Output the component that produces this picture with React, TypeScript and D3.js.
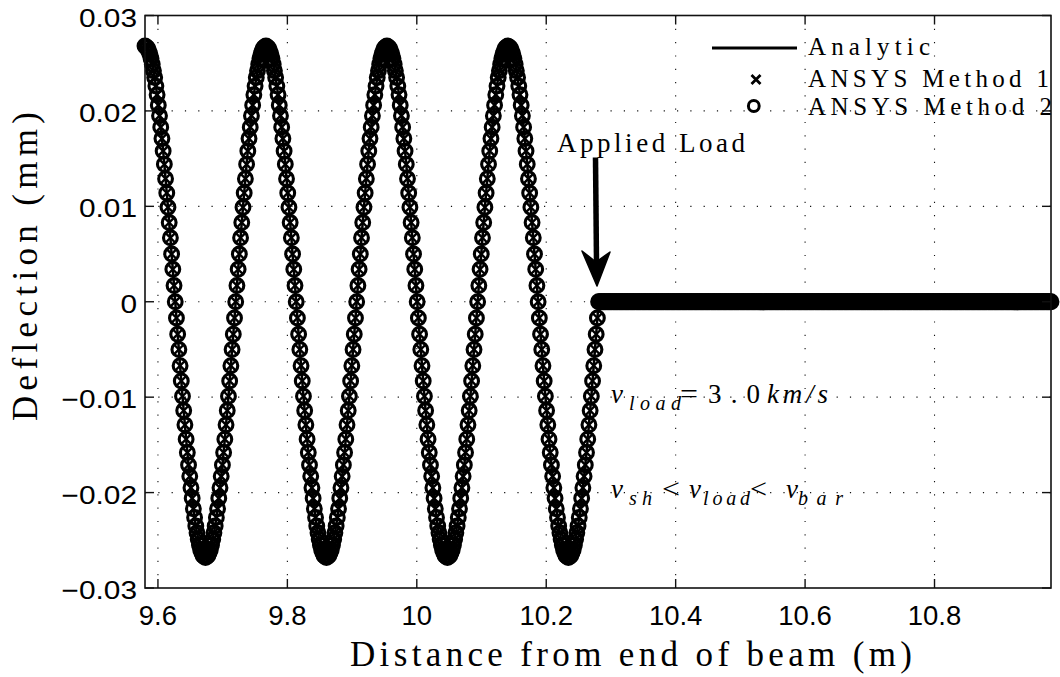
import React from 'react';
import * as d3 from 'd3';

// ---------- data ----------
// node positions along the beam span the whole x-range
const nodeSpanStart = 9.58;
const nodeSpanEnd = 10.98;

// deflection at the nodes behind the load (units: 1e-4 mm), 9.58 m ... 10.28 m
const waveDeflection = [
  268,
  267, 266, 263, 260, 255, 249, 242, 235, 226, 217, 206, 195, 183, 171, 158, 144, 129, 114, 99, 83, 67, 50, 34, 17, 0,
  -17, -34, -50, -67, -83, -99, -114, -129, -144, -158, -171, -183, -195, -206, -217, -226, -235, -242, -249, -255, -260, -263, -266, -267, -268,
  -267, -266, -263, -260, -255, -249, -242, -235, -226, -217, -206, -195, -183, -171, -158, -144, -129, -114, -99, -83, -67, -50, -34, -17, 0,
  17, 34, 50, 67, 83, 99, 114, 129, 144, 158, 171, 183, 195, 206, 217, 226, 235, 242, 249, 255, 260, 263, 266, 267, 268,
  267, 266, 263, 260, 255, 249, 242, 235, 226, 217, 206, 195, 183, 171, 158, 144, 129, 114, 99, 83, 67, 50, 34, 17, 0,
  -17, -34, -50, -67, -83, -99, -114, -129, -144, -158, -171, -183, -195, -206, -217, -226, -235, -242, -249, -255, -260, -263, -266, -267, -268,
  -267, -266, -263, -260, -255, -249, -242, -235, -226, -217, -206, -195, -183, -171, -158, -144, -129, -114, -99, -83, -67, -50, -34, -17, 0,
  17, 34, 50, 67, 83, 99, 114, 129, 144, 158, 171, 183, 195, 206, 217, 226, 235, 242, 249, 255, 260, 263, 266, 267, 268,
  267, 266, 263, 260, 255, 249, 242, 235, 226, 217, 206, 195, 183, 171, 158, 144, 129, 114, 99, 83, 67, 50, 34, 17, 0,
  -17, -34, -50, -67, -83, -99, -114, -129, -144, -158, -171, -183, -195, -206, -217, -226, -235, -242, -249, -255, -260, -263, -266, -267, -268,
  -267, -266, -263, -260, -255, -249, -242, -235, -226, -217, -206, -195, -183, -171, -158, -144, -129, -114, -99, -83, -67, -50, -34, -17, 0,
  17, 34, 50, 67, 83, 99, 114, 129, 144, 158, 171, 183, 195, 206, 217, 226, 235, 242, 249, 255, 260, 263, 266, 267, 268,
  267, 266, 263, 260, 255, 249, 242, 235, 226, 217, 206, 195, 183, 171, 158, 144, 129, 114, 99, 83, 67, 50, 34, 17, 0,
  -17, -34, -50, -67, -83, -99, -114, -129, -144, -158, -171, -183, -195, -206, -217, -226, -235, -242, -249, -255, -260, -263, -266, -267, -268,
  -267, -266, -263, -260, -255, -249, -242, -235, -226, -217, -206, -195, -183, -171, -158, -144, -129, -114, -99, -83, -67, -50, -34, -17, 0,
];

// deflection at the nodes ahead of the load (units: 1e-4 mm), 10.28 m ... 10.98 m
const aheadDeflection = [
  0, 0, 0, 0, 0, 0, 0, 0, 0, 0, 0, 0, 0, 0, 0, 0, 0, 0, 0, 0, 0, 0, 0, 0, 0,
  0, 0, 0, 0, 0, 0, 0, 0, 0, 0, 0, 0, 0, 0, 0, 0, 0, 0, 0, 0, 0, 0, 0, 0, 0,
  0, 0, 0, 0, 0, 0, 0, 0, 0, 0, 0, 0, 0, 0, 0, 0, 0, 0, 0, 0, 0, 0, 0, 0, 0,
  0, 0, 0, 0, 0, 0, 0, 0, 0, 0, 0, 0, 0, 0, 0, 0, 0, 0, 0, 0, 0, 0, 0, 0, 0,
  0, 0, 0, 0, 0, 0, 0, 0, 0, 0, 0, 0, 0, 0, 0, 0, 0, 0, 0, 0, 0, 0, 0, 0, 0,
  0, 0, 0, 0, 0, 0, 0, 0, 0, 0, 0, 0, 0, 0, 0, 0, 0, 0, 0, 0, 0, 0, 0, 0, 0,
  0, 0, 0, 0, 0, 0, 0, 0, 0, 0, 0, 0, 0, 0, 0, 0, 0, 0, 0, 0, 0, 0, 0, 0, 0,
  0, 0, 0, 0, 0, 0, 0, 0, 0, 0, 0, 0, 0, 0, 0, 0, 0, 0, 0, 0, 0, 0, 0, 0, 0,
  0, 0, 0, 0, 0, 0, 0, 0, 0, 0, 0, 0, 0, 0, 0, 0, 0, 0, 0, 0, 0, 0, 0, 0, 0,
  0, 0, 0, 0, 0, 0, 0, 0, 0, 0, 0, 0, 0, 0, 0, 0, 0, 0, 0, 0, 0, 0, 0, 0, 0,
  0, 0, 0, 0, 0, 0, 0, 0, 0, 0, 0, 0, 0, 0, 0, 0, 0, 0, 0, 0, 0, 0, 0, 0, 0,
  0, 0, 0, 0, 0, 0, 0, 0, 0, 0, 0, 0, 0, 0, 0, 0, 0, 0, 0, 0, 0, 0, 0, 0, 0,
  0, 0, 0, 0, 0, 0, 0, 0, 0, 0, 0, 0, 0, 0, 0, 0, 0, 0, 0, 0, 0, 0, 0, 0, 0,
  0, 0, 0, 0, 0, 0, 0, 0, 0, 0, 0, 0, 0, 0, 0, 0, 0, 0, 0, 0, 0, 0, 0, 0, 0,
  0, 0, 0, 0, 0, 0, 0, 0, 0, 0, 0, 0, 0, 0, 0, 0, 0, 0, 0, 0, 0, 0, 0, 0, 0,
];

const xTicks = [9.6, 9.8, 10, 10.2, 10.4, 10.6, 10.8];
const xTickLabels = ['9.6', '9.8', '10', '10.2', '10.4', '10.6', '10.8'];
const yTicks = [-0.03, -0.02, -0.01, 0, 0.01, 0.02, 0.03];
const yTickLabels = ['\u22120.03', '\u22120.02', '\u22120.01', '0', '0.01', '0.02', '0.03'];
const xDomain = [9.58, 10.98];
const yDomain = [-0.03, 0.03];
const legendLabels = ['Analytic', 'ANSYS Method 1', 'ANSYS Method 2'];
const loadPosition = 10.28;

const SANS = "'Liberation Sans', Arial, Helvetica, sans-serif";
const SERIF = "'Liberation Serif', 'DejaVu Serif', serif";

export default function App() {
  const W = 1060;
  const H = 677;
  const L = 145, R = 1051, T = 15.5, B = 588;
  const x = d3.scaleLinear().domain(xDomain).range([L, R]);
  const y = d3.scaleLinear().domain(yDomain).range([B, T]);

  const values = waveDeflection.concat(aheadDeflection.slice(1));
  const nodeX = d3.scaleLinear().domain([0, values.length - 1]).range([nodeSpanStart, nodeSpanEnd]);
  const pts = values.map((v, i) => ({ xv: nodeX(i), yv: v * 1e-4 }));

  const line = d3.line<{ xv: number; yv: number }>().x(d => x(d.xv)).y(d => y(d.yv));
  const tickLen = 9;
  const grid = { stroke: '#111', strokeWidth: 1.1, strokeDasharray: '1.2 12.1' };
  const loadX = x(loadPosition);

  return (
    <svg width={W} height={H} style={{ position: 'absolute', left: 0, top: 0, background: '#fff' }}>
      <rect x={0} y={0} width={W} height={H} fill="#fff" />
      {/* grid */}
      {xTicks.map(t => (
        <line key={'gx' + t} x1={x(t)} x2={x(t)} y1={T} y2={B} {...grid} />
      ))}
      {yTicks.filter(t => t > yDomain[0] && t < yDomain[1]).map(t => (
        <line key={'gy' + t} x1={L} x2={R} y1={y(t)} y2={y(t)} {...grid} />
      ))}

      {/* analytic line */}
      <path d={line(pts) || ''} fill="none" stroke="#000" strokeWidth={2.5} />
      {/* ANSYS method 1: x markers */}
      {pts.map((p, i) => (
        <path key={'m1' + i} transform={`translate(${x(p.xv)},${y(p.yv)})`} d="M-4.2,-4.2L4.2,4.2M-4.2,4.2L4.2,-4.2"
          stroke="#000" strokeWidth={2.4} fill="none" />
      ))}
      {/* ANSYS method 2: circles */}
      {pts.map((p, i) => (
        <circle key={'m2' + i} cx={x(p.xv)} cy={y(p.yv)} r={6.9} fill="none" stroke="#000" strokeWidth={3.1} />
      ))}

      {/* axes box */}
      <rect x={L} y={T} width={R - L} height={B - T} fill="none" stroke="#111" strokeWidth={1.6} />
      {xTicks.map(t => (
        <g key={'tx' + t}>
          <line x1={x(t)} x2={x(t)} y1={B} y2={B - tickLen} stroke="#111" strokeWidth={1.4} />
          <line x1={x(t)} x2={x(t)} y1={T} y2={T + tickLen} stroke="#111" strokeWidth={1.4} />
        </g>
      ))}
      {yTicks.map(t => (
        <g key={'ty' + t}>
          <line x1={L} x2={L + tickLen} y1={y(t)} y2={y(t)} stroke="#111" strokeWidth={1.4} />
          <line x1={R} x2={R - tickLen} y1={y(t)} y2={y(t)} stroke="#111" strokeWidth={1.4} />
        </g>
      ))}
      {xTicks.map((t, i) => (
        <text key={'lx' + t} x={x(t)} y={625} textAnchor="middle" fontFamily={SANS} fontSize={27.5} fill="#000">
          {xTickLabels[i]}
        </text>
      ))}
      {yTicks.map((t, i) => (
        <text key={'ly' + t} transform={`translate(137,${y(t) + 11}) scale(1.17,1)`} textAnchor="end"
          fontFamily={SANS} fontSize={25.5} fill="#000">
          {yTickLabels[i]}
        </text>
      ))}

      {/* axis titles */}
      <text x={350} y={666} fontFamily={SERIF} fontSize={35} textLength={562} lengthAdjust="spacing" fill="#000">
        Distance from end of beam (m)
      </text>
      <text transform="translate(37,421) rotate(-90)" fontFamily={SERIF} fontSize={35} textLength={309}
        lengthAdjust="spacing" fill="#000">
        Deflection (mm)
      </text>

      {/* legend */}
      <line x1={712} x2={797} y1={48} y2={48} stroke="#000" strokeWidth={2.8} />
      <path transform="translate(756,79.5)" d="M-4.5,-4.5L4.5,4.5M-4.5,4.5L4.5,-4.5" stroke="#000" strokeWidth={2.8} />
      <circle cx={753.8} cy={106} r={5.4} fill="none" stroke="#000" strokeWidth={3} />
      <text x={808} y={55} fontFamily={SERIF} fontSize={25} textLength={122} lengthAdjust="spacing">{legendLabels[0]}</text>
      <text x={808} y={86.5} fontFamily={SERIF} fontSize={25} textLength={241} lengthAdjust="spacing">{legendLabels[1]}</text>
      <text x={808} y={115} fontFamily={SERIF} fontSize={25} textLength={244} lengthAdjust="spacing">{legendLabels[2]}</text>

      {/* applied load annotation */}
      <text x={557} y={152} fontFamily={SERIF} fontSize={27} textLength={188} lengthAdjust="spacing">Applied Load</text>
      <line x1={loadX - 2.5} x2={loadX - 1.5} y1={157.5} y2={262} stroke="#000" strokeWidth={5.5} />
      <path d={`M${loadX - 1},286 L${loadX - 16},251 L${loadX - 2},262 L${loadX + 12},252 Z`} fill="#000" stroke="#000"
        strokeWidth={1.5} strokeLinejoin="round" />

      {/* velocity annotations */}
      <g fontFamily={SERIF} fill="#000">
        <text x={611} y={403} fontSize={27} fontStyle="italic">v</text>
        <text x={629} y={409.5} fontSize={20} fontStyle="italic" textLength={52} lengthAdjust="spacing">load</text>
        <text x={680} y={403} fontSize={27} textLength={18} lengthAdjust="spacingAndGlyphs">=</text>
        <text x={708} y={403} fontSize={27} textLength={52} lengthAdjust="spacing">3.0</text>
        <text x={767} y={403} fontSize={27} fontStyle="italic" textLength={61} lengthAdjust="spacing">km/s</text>

        <text x={611} y={498} fontSize={27} fontStyle="italic">v</text>
        <text x={629} y={504.5} fontSize={20} fontStyle="italic" textLength={23} lengthAdjust="spacing">sh</text>
        <text x={662} y={498} fontSize={27} textLength={18} lengthAdjust="spacingAndGlyphs">&lt;</text>
        <text x={689} y={498} fontSize={27} fontStyle="italic">v</text>
        <text x={703} y={504.5} fontSize={20} fontStyle="italic" textLength={47} lengthAdjust="spacing">load</text>
        <text x={750} y={498} fontSize={27} textLength={17} lengthAdjust="spacingAndGlyphs">&lt;</text>
        <text x={786} y={498} fontSize={27} fontStyle="italic">v</text>
        <text x={798} y={504.5} fontSize={20} fontStyle="italic" textLength={45} lengthAdjust="spacing">bar</text>
      </g>
    </svg>
  );
}
